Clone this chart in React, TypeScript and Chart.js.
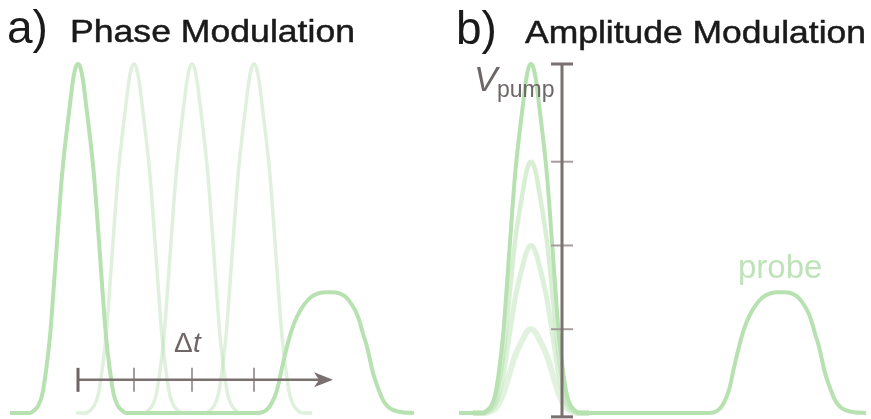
import React, { useEffect, useRef } from "react";
import { Chart, registerables } from "chart.js";
Chart.register(...registerables);

// Pump pulse: time offset from pulse centre and normalised amplitude
const pumpOffsets = [-58, -48, -44, -40, -36, -32, -28, -24, -20, -16, -12, -8, -5, -2, 0, 2, 5, 8, 12, 16, 20, 24, 28, 32, 36, 40, 44, 48, 58];
const pumpShape = [0, 0, 0.007, 0.02, 0.05, 0.12, 0.22, 0.37, 0.53, 0.68, 0.79, 0.885, 0.953, 0.993, 1, 0.993, 0.953, 0.885, 0.79, 0.68, 0.53, 0.37, 0.22, 0.12, 0.05, 0.02, 0.007, 0, 0];

// Probe pulse: time offset from pulse centre and amplitude
const probeOffsets = [-70, -60, -55, -50, -45, -40, -35, -30, -25, -20, -15, -10, -5, 0, 5, 9, 13, 18, 22, 26, 30, 33, 36, 40, 43, 46, 50, 56, 61, 66, 75, 87];
const probeShape = [0, 0.01, 0.03, 0.066, 0.13, 0.19, 0.24, 0.276, 0.302, 0.321, 0.334, 0.341, 0.345, 0.346, 0.346, 0.345, 0.342, 0.334, 0.322, 0.305, 0.283, 0.258, 0.227, 0.19, 0.152, 0.115, 0.08, 0.037, 0.018, 0.009, 0.002, 0];

// Panel a) phase modulation: pump delays
const traceStartA = 10;
const pumpCentreA = 78;
const delayedPumpCentresA = [134, 192, 254];
const probeCentreA = 327;
const arrowTipA = 333;
const arrowLevelA = 0.095;

// Panel b) amplitude modulation: pump amplitudes
const traceStartB = 459;
const pumpCentreB = 531;
const pumpLevelsB = [0.72, 0.48, 0.24];
const probeCentreB = 779;
const vAxisB = 562;
const vAxisBottomB = -0.011;

const GREEN = "rgb(184,225,177)";
const lightA = "rgba(184,225,177,0.45)";
const lightB = ["rgba(184,225,177,0.55)", "rgba(184,225,177,0.48)", "rgba(184,225,177,0.42)"];
const lightBWidth = [4.5, 5, 6];

type P = { x: number; y: number };
const pulse = (centre: number, offs: number[], shape: number[], scale = 1): P[] =>
  offs.map((o, i) => ({ x: centre + o, y: shape[i] * scale }));

const mainTrace = (start: number, pump: number, probe: number): P[] => [
  { x: start, y: 0 },
  ...pulse(pump, pumpOffsets, pumpShape),
  ...pulse(probe, probeOffsets, probeShape),
];

const fitText = (ctx: CanvasRenderingContext2D, text: string, x: number, y: number, w: number) => {
  const m = ctx.measureText(text).width;
  ctx.save();
  ctx.translate(x, y);
  ctx.scale(w / m, 1);
  ctx.fillText(text, 0, 0);
  ctx.lineWidth = 0.5;
  ctx.strokeText(text, 0, 0);
  ctx.restore();
};

const annot = {
  id: "annot",
  afterDatasetsDraw(chart: any) {
    const { ctx } = chart;
    const xs = chart.scales.x, ys = chart.scales.y;
    const px = (v: number) => xs.getPixelForValue(v);
    const py = (v: number) => ys.getPixelForValue(v);
    const line = (x1: number, y1: number, x2: number, y2: number) => {
      ctx.beginPath(); ctx.moveTo(x1, y1); ctx.lineTo(x2, y2); ctx.stroke();
    };
    ctx.save();
    ctx.lineCap = "butt";
    // Δt arrow
    const ay = py(arrowLevelA);
    ctx.strokeStyle = "#a69d9d"; ctx.lineWidth = 2;
    for (const c of delayedPumpCentresA) line(px(c), ay - 12, px(c), ay + 12);
    ctx.strokeStyle = "#7a7070"; ctx.lineWidth = 2.5;
    line(px(pumpCentreA), ay, px(arrowTipA) - 12, ay);
    ctx.strokeStyle = "#6f6565"; ctx.lineWidth = 3;
    line(px(pumpCentreA), ay - 12, px(pumpCentreA), ay + 12);
    const tx = px(arrowTipA);
    ctx.fillStyle = "#7a7070";
    ctx.beginPath();
    ctx.moveTo(tx, ay); ctx.lineTo(tx - 19, ay - 7.5); ctx.lineTo(tx - 14, ay); ctx.lineTo(tx - 19, ay + 7.5);
    ctx.closePath(); ctx.fill();

    // V_pump axis
    const vx = px(vAxisB);
    ctx.strokeStyle = "#a69d9d"; ctx.lineWidth = 2;
    for (const l of pumpLevelsB) line(vx - 11, py(l), vx + 11, py(l));
    ctx.strokeStyle = "#7a7070"; ctx.lineWidth = 3;
    line(vx, py(1), vx, py(vAxisBottomB));
    line(vx - 11, py(1), vx + 11, py(1));
    line(vx - 11, py(vAxisBottomB), vx + 11, py(vAxisBottomB));

    // texts
    ctx.textBaseline = "alphabetic";
    ctx.fillStyle = "#1a1a1a";
    ctx.strokeStyle = "#1a1a1a";
    ctx.font = "46px 'Liberation Sans', Arial, sans-serif";
    ctx.fillText("a)", 7, 43);
    ctx.fillText("b)", 456, 44);
    ctx.font = "32px 'Liberation Sans', Arial, sans-serif";
    fitText(ctx, "Phase Modulation", 70, 42, 285);
    fitText(ctx, "Amplitude Modulation", 525, 43, 341);

    ctx.fillStyle = "#6f6767";
    ctx.font = "28px 'Liberation Sans', Arial, sans-serif";
    ctx.fillText("Δ", 174, 352);
    ctx.font = "italic 28px 'Liberation Sans', Arial, sans-serif";
    ctx.fillText("t", 193, 352);
    ctx.font = "italic 35px 'Liberation Sans', Arial, sans-serif";
    ctx.fillText("V", 474, 91);
    ctx.font = "23px 'Liberation Sans', Arial, sans-serif";
    ctx.fillText("pump", 497, 97);
    ctx.fillStyle = "#bfe3b9";
    ctx.font = "33px 'Liberation Sans', Arial, sans-serif";
    ctx.fillText("probe", 738, 278);
    ctx.restore();
  },
};

export default function App() {
  const ref = useRef<HTMLCanvasElement>(null);
  useEffect(() => {
    document.body.style.margin = "0";
    const common = { pointRadius: 0, fill: false, cubicInterpolationMode: "monotone" as const, clip: false as any };
    const datasets: any[] = [
      { data: mainTrace(traceStartA, pumpCentreA, probeCentreA), borderColor: GREEN, borderWidth: 4, ...common },
      { data: mainTrace(traceStartB, pumpCentreB, probeCentreB), borderColor: GREEN, borderWidth: 4, ...common },
      ...delayedPumpCentresA.map((c) => ({ data: pulse(c, pumpOffsets, pumpShape), borderColor: lightA, borderWidth: 3.5, ...common })),
      ...pumpLevelsB.map((l, i) => ({ data: pulse(pumpCentreB, pumpOffsets, pumpShape, l), borderColor: lightB[i], borderWidth: lightBWidth[i], ...common })),
    ];
    const chart = new Chart(ref.current!, {
      type: "line",
      data: { datasets },
      options: {
        animation: false,
        responsive: false,
        events: [],
        layout: { padding: 0 },
        plugins: { legend: { display: false }, tooltip: { enabled: false } },
        scales: {
          x: { type: "linear", min: 0, max: 871, display: false },
          y: { type: "linear", min: -6 / 349, max: -6 / 349 + 419 / 349, display: false },
        },
      },
      plugins: [annot],
    });
    return () => chart.destroy();
  }, []);
  return <canvas ref={ref} width={871} height={419} style={{ display: "block" }} />;
}
